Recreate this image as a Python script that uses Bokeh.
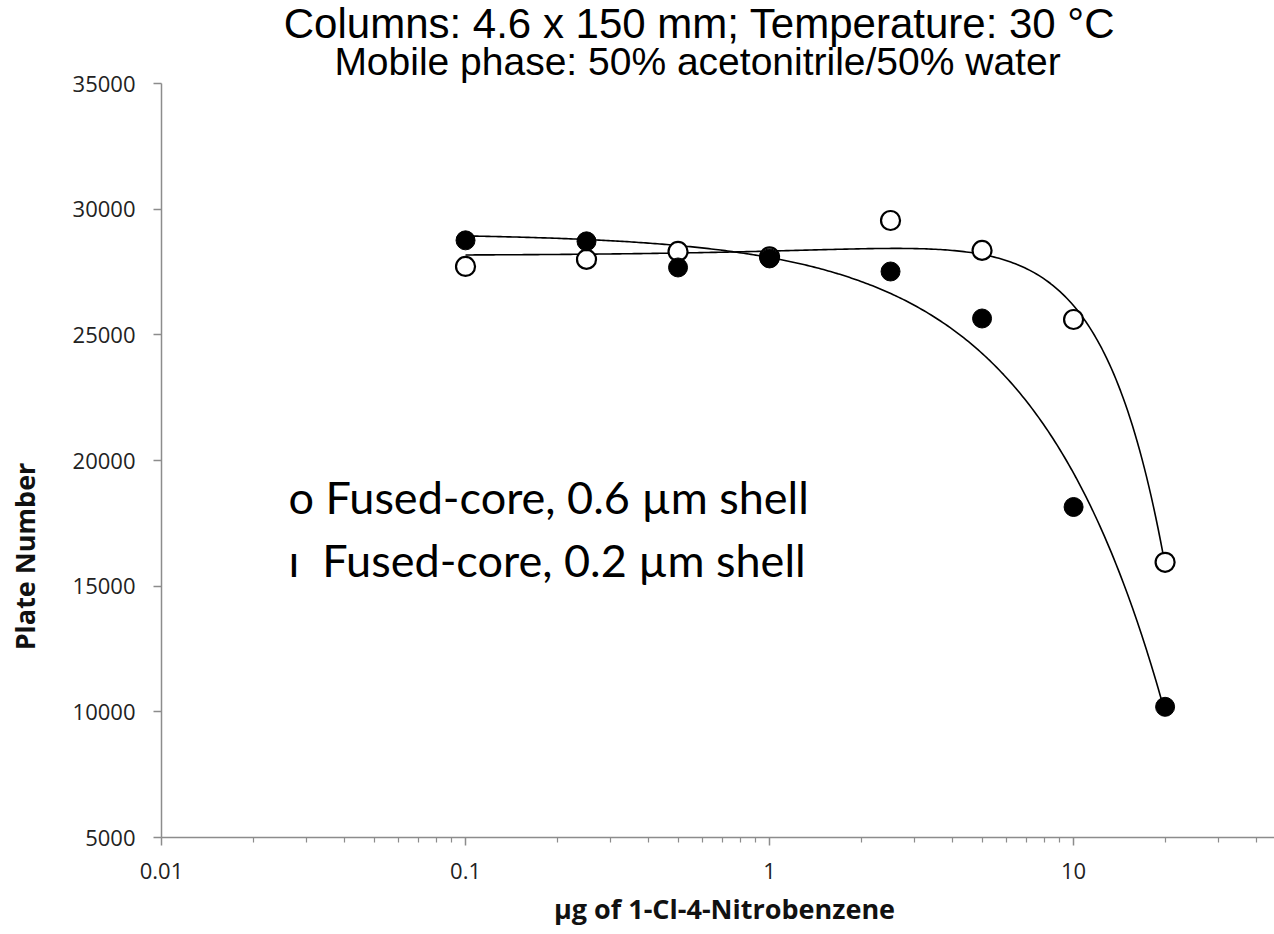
import math
import numpy as np
from bokeh.plotting import figure
from bokeh.models import Label, FixedTicker, Range1d
from bokeh.embed import file_html
from bokeh.resources import INLINE

# Sample load (µg of 1-Cl-4-nitrobenzene) and measured plate numbers
amount_ug = [0.1, 0.25, 0.5, 1, 2.5, 5, 10, 20]
plates_shell_06 = [27720, 28000, 28320, 28100, 29550, 28360, 25610, 15950]
plates_shell_02 = [28760, 28720, 27680, 28040, 27520, 25650, 18150, 10200]

x_major_ticks = [0.01, 0.1, 1, 10]
x_major_labels = ["0.01", "0.1", "1", "10"]
y_ticks = [5000, 10000, 15000, 20000, 25000, 30000, 35000]

title_line1 = "Columns: 4.6 x 150 mm; Temperature: 30 °C"
title_line2 = "Mobile phase: 50% acetonitrile/50% water"
legend_06 = "o Fused-core, 0.6 µm shell"
legend_02 = "ı\u00a0\u00a0Fused-core, 0.2 µm shell"
x_title = "µg of 1-Cl-4-Nitrobenzene"
y_title = "Plate Number"

W, H = 1274, 934
# pixel positions of the axis lines: value axis at x=161, its top at y=83,
# sample-load axis at y=837
AXIS_LEFT_PX, AXIS_TOP_PX, AXIS_BOTTOM_PX = 161, 83, 837
X_AXIS_MIN, X_MAX = 0.01, 45.8
Y_AXIS_MIN, Y_AXIS_MAX = 5000, 35000

# the frame covers the whole canvas; axes are pinned at their data positions
decades_per_px = (math.log10(X_MAX) - math.log10(X_AXIS_MIN)) / (W - AXIS_LEFT_PX)
X_MIN = 10 ** (math.log10(X_AXIS_MIN) - AXIS_LEFT_PX * decades_per_px)
px_per_unit = (AXIS_BOTTOM_PX - AXIS_TOP_PX) / (Y_AXIS_MAX - Y_AXIS_MIN)
Y_MAX = Y_AXIS_MAX + AXIS_TOP_PX / px_per_unit
Y_MIN = Y_AXIS_MIN - (H - AXIS_BOTTOM_PX) / px_per_unit

p = figure(width=W, height=H, x_axis_type="log",
           x_range=Range1d(X_MIN, X_MAX), y_range=Range1d(Y_MIN, Y_MAX),
           output_backend="svg", toolbar_location=None,
           min_border_left=0, min_border_right=0,
           min_border_top=0, min_border_bottom=0)
p.outline_line_color = None
p.grid.visible = False
p.background_fill_color = "white"
p.border_fill_color = "white"

# pixel -> data helpers for free text
def fx(px):
    return 10 ** (math.log10(X_MIN) + px * decades_per_px)
def fy(py):
    return Y_AXIS_MAX - (py - AXIS_TOP_PX) / px_per_unit
def baseline_y(py, size):
    # Label places 'alphabetic' text ~0.375 em lower than requested
    return fy(py - 0.375 * size)

# axes
minor = [m * 10 ** e for e in (-2, -1, 0, 1) for m in range(2, 10) if m * 10 ** e < X_MAX]
p.xaxis.ticker = FixedTicker(ticks=x_major_ticks, minor_ticks=minor)
p.xaxis.major_label_overrides = {t: l for t, l in zip(x_major_ticks, x_major_labels)}
p.xaxis.bounds = (X_AXIS_MIN, X_MAX)
p.xaxis.fixed_location = Y_AXIS_MIN
p.yaxis.ticker = FixedTicker(ticks=y_ticks)
p.yaxis.bounds = (Y_AXIS_MIN, Y_AXIS_MAX)
p.yaxis.fixed_location = X_AXIS_MIN
for ax in (p.xaxis, p.yaxis):
    ax.axis_line_color = "#8c8c8c"
    ax.axis_line_width = 1.5
    ax.major_tick_line_color = "#8c8c8c"
    ax.major_tick_line_width = 1.5
    ax.minor_tick_line_color = "#8c8c8c"
    ax.minor_tick_line_width = 1.2
    ax.major_tick_in = 0
    ax.minor_tick_in = 0
    ax.major_label_text_font = "Open Sans"
    ax.major_label_text_font_size = "22px"
    ax.major_label_text_color = "#222222"
p.xaxis.major_tick_out = 8
p.xaxis.minor_tick_out = 5
p.yaxis.major_tick_out = 8
p.yaxis.minor_tick_out = 0
p.xaxis.major_label_standoff = 17
p.yaxis.major_label_standoff = 18

# axis titles
p.add_layout(Label(x=fx(724), y=baseline_y(918, 27), text=x_title,
                   text_align="center", text_baseline="alphabetic",
                   text_font="Open Sans", text_font_style="bold",
                   text_font_size="27px", text_color="#111111"))
p.add_layout(Label(x=fx(24), y=fy(556), text=y_title, angle=math.pi / 2,
                   text_align="center", text_baseline="middle",
                   text_font="Open Sans", text_font_style="bold",
                   text_font_size="27px", text_color="#111111"))

# linear trendlines (in sample load) for both columns
grid = np.logspace(math.log10(amount_ug[0]), math.log10(amount_ug[-1]), 300)
fit_06 = np.polyval(np.polyfit(amount_ug, plates_shell_06, 2), grid)
fit_02 = np.polyval(np.polyfit(amount_ug, plates_shell_02, 1), grid)
p.line(grid, fit_06, line_color="black", line_width=1.6)
p.line(grid, fit_02, line_color="black", line_width=1.6)

p.scatter(amount_ug, plates_shell_06, marker="circle", size=19,
          fill_color="white", line_color="black", line_width=2.2)
p.scatter(amount_ug, plates_shell_02, marker="circle", size=19,
          fill_color="black", line_color="black", line_width=1)

# titles
p.add_layout(Label(x=fx(699), y=baseline_y(39, 42), text=title_line1,
                   text_align="center", text_baseline="alphabetic",
                   text_font="Liberation Sans", text_font_size="42px",
                   text_color="black"))
p.add_layout(Label(x=fx(697), y=baseline_y(76, 39), text=title_line2,
                   text_align="center", text_baseline="alphabetic",
                   text_font="Liberation Sans", text_font_size="39px",
                   text_color="black"))

# in-plot legend text
p.add_layout(Label(x=fx(288), y=baseline_y(513, 45), text=legend_06,
                   text_align="left", text_baseline="alphabetic",
                   text_font="Lato", text_font_size="45px", text_color="black"))
p.add_layout(Label(x=fx(288), y=baseline_y(576, 45), text=legend_02,
                   text_align="left", text_baseline="alphabetic",
                   text_font="Lato", text_font_size="45px", text_color="black"))

open("out.html", "w").write(file_html(p, INLINE))
